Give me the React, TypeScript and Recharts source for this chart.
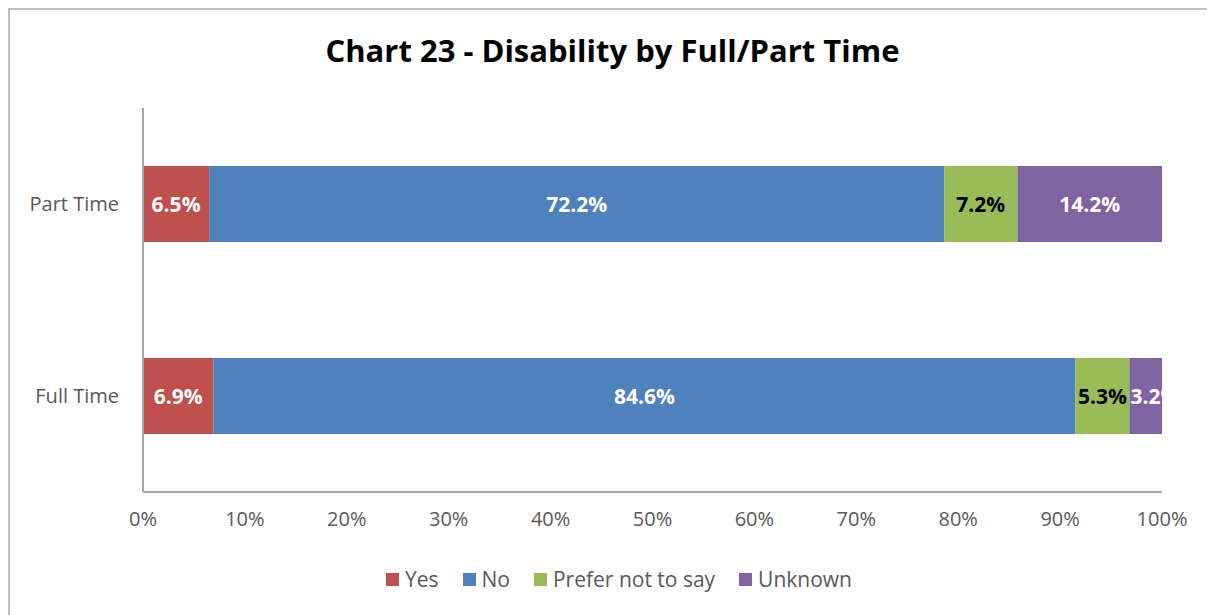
import { BarChart, Bar, XAxis, YAxis, Legend, LabelList } from "recharts"

const categories = ["Part Time", "Full Time"]
const yesValues = [0.065, 0.069]
const noValues = [0.722, 0.846]
const preferNotValues = [0.072, 0.053]
const unknownValues = [0.142, 0.032]
const xTicks = [0, 0.1, 0.2, 0.3, 0.4, 0.5, 0.6, 0.7, 0.8, 0.9, 1]

const series = [
    { key: "yes", name: "Yes", color: "#C0504D", labelColor: "#FFFFFF" },
    { key: "no", name: "No", color: "#4F81BD", labelColor: "#FFFFFF" },
    { key: "prefer", name: "Prefer not to say", color: "#9BBB59", labelColor: "#000000" },
    { key: "unknown", name: "Unknown", color: "#8064A2", labelColor: "#FFFFFF" },
]

const data = categories.map((c, i) => ({
    category: c,
    yes: yesValues[i],
    no: noValues[i],
    prefer: preferNotValues[i],
    unknown: unknownValues[i],
}))

const FONT = "'Open Sans', sans-serif"

const makeLabel = (key: string, color: string) => (props: any) => {
    const vb = props.viewBox || {}
    const x = props.x ?? vb.x
    const y = props.y ?? vb.y
    const width = props.width ?? vb.width
    const height = props.height ?? vb.height
    const id = `clip-${key}-${props.index}`
    // narrow segments: text starts at the bar edge and gets cut off, like Excel does
    const narrow = width < 50
    return (
        <g>
            <defs>
                <clipPath id={id}>
                    <rect x={x} y={y} width={width} height={height} />
                </clipPath>
            </defs>
            <text
                x={narrow ? x + 1 : x + width / 2}
                y={y + height / 2}
                textAnchor={narrow ? "start" : "middle"}
                dominantBaseline="central"
                fill={color}
                fontWeight="bold"
                fontSize={21}
                fontFamily={FONT}
                clipPath={`url(#${id})`}
            >
                {(Number(props.value) * 100).toFixed(1)}%
            </text>
        </g>
    )
}

const renderLegend = () => (
    <div style={{ display: "flex", justifyContent: "center", alignItems: "center", height: 26, paddingLeft: 66, fontFamily: FONT, fontSize: 21, color: "#595959" }}>
        {series.map((s) => (
            <div key={s.key} style={{ display: "flex", alignItems: "center", margin: "0 12px" }}>
                <span style={{ display: "inline-block", width: 13, height: 13, background: s.color, marginRight: 6 }} />
                <span>{s.name}</span>
            </div>
        ))}
    </div>
)

export default function App() {
    return (
        <div style={{ position: "relative", width: 1205, height: 640, border: "2px solid #BFBFBF", background: "#fff" }}>
            <div
                style={{
                    position: "absolute",
                    top: 19,
                    left: 0,
                    width: "100%",
                    textAlign: "center",
                    fontFamily: FONT,
                    fontWeight: "bold",
                    fontSize: 31,
                    color: "#000",
                }}
            >
                Chart 23 - Disability by Full/Part Time
            </div>
            <BarChart
                width={1205}
                height={592}
                data={data}
                layout="vertical"
                stackOffset="expand"
                barSize={76}
                margin={{ top: 98, right: 53, left: 0, bottom: 10 }}
            >
                <XAxis
                    type="number"
                    domain={[0, 1]}
                    ticks={xTicks}
                    tickFormatter={(v: number) => `${Math.round(v * 100)}%`}
                    axisLine={{ stroke: "#A6A6A6", strokeWidth: 2 }}
                    tickLine={false}
                    tick={{ fill: "#595959", fontSize: 20, fontFamily: FONT }}
                    tickMargin={14}
                    height={74}
                    interval={0}
                />
                <YAxis
                    type="category"
                    dataKey="category"
                    width={133}
                    axisLine={{ stroke: "#A6A6A6", strokeWidth: 2 }}
                    tickLine={false}
                    tick={{ fill: "#595959", fontSize: 20, fontFamily: FONT }}
                    tickMargin={18}
                />
                <Legend verticalAlign="bottom" align="center" content={renderLegend} />
                {series.map((s) => (
                    <Bar key={s.key} dataKey={s.key} name={s.name} stackId="a" fill={s.color} isAnimationActive={false}>
                        <LabelList dataKey={s.key} content={makeLabel(s.key, s.labelColor)} />
                    </Bar>
                ))}
            </BarChart>
        </div>
    )
}
